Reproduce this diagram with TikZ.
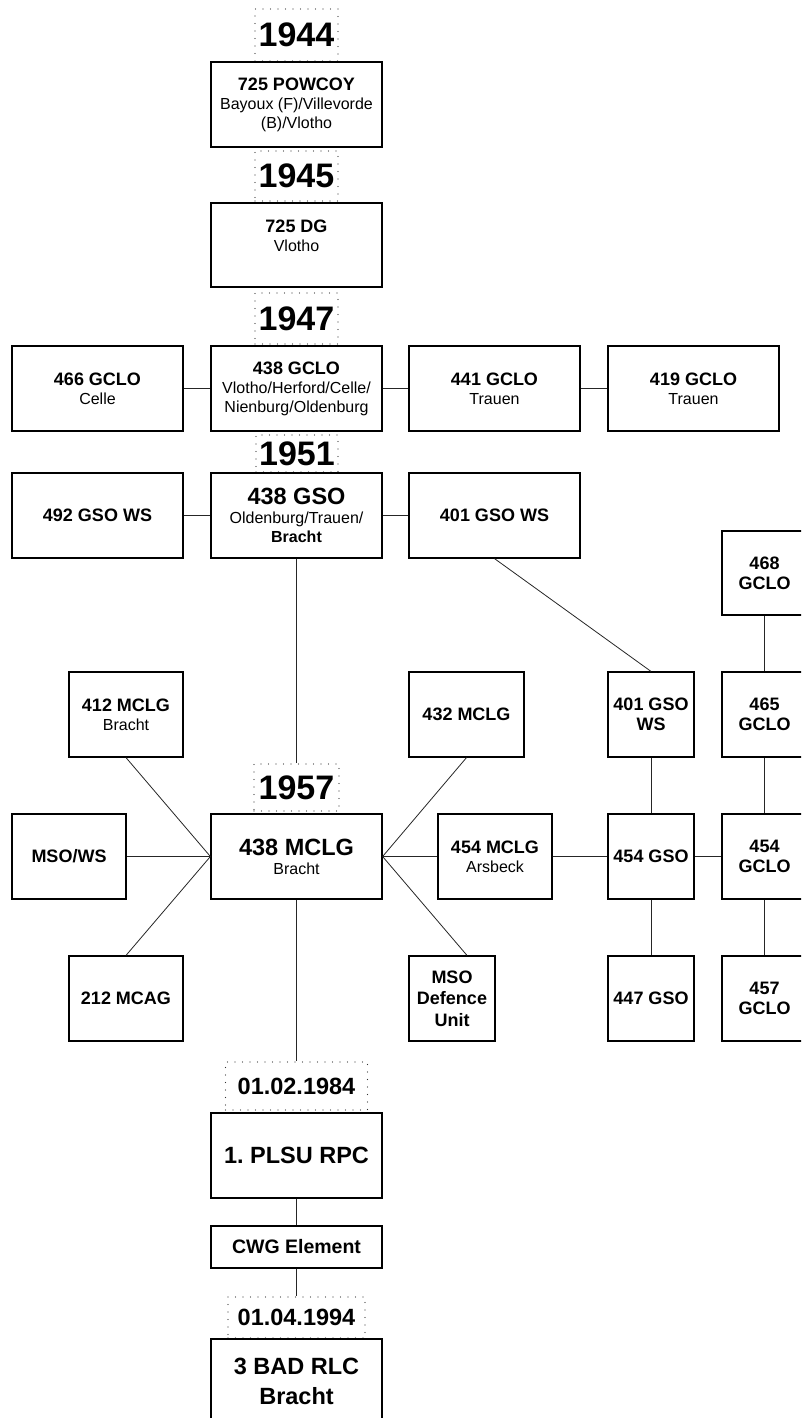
\documentclass[tikz,border=0pt]{standalone}
\usepackage{fontspec}
\setmainfont{Liberation Sans}
\frenchspacing
\newcommand\myfs[2]{\fontsize{#1}{#2}\selectfont}
\newcommand\ttl[1]{{\myfs{18}{20}\bfseries #1}}
\newcommand\bigttl[1]{{\myfs{23.5}{29}\bfseries #1}}
\begin{document}
\begin{tikzpicture}[x=1pt,y=-1pt,
  box/.style={draw=black, line width=1.2pt, align=center, inner sep=0pt, font=\myfs{16}{19}},
  sz/.style 2 args={minimum width=#1pt, minimum height=#2pt},
  wide/.style={box, sz={171}{85}},
  mid/.style={box, sz={114}{85}},
  small/.style={box, sz={86}{85}},
  yearbox/.style={draw=black!80, line width=1.4pt, dash pattern=on 0pt off 7.5pt, line cap=round, inner sep=0pt, font=\myfs{34}{36}\bfseries},
  datebox/.style={yearbox, font=\myfs{23.5}{26}\bfseries},
  conn/.style={line width=0.8pt, draw=black!85}]
\useasboundingbox (0,0) rectangle (801,1418);
\clip (0,0) rectangle (801,1418);

% year / date boxes
\node[yearbox, sz={83}{52}] (y1944) at (296.5,35) {1944};
\node[yearbox, sz={83}{50}] (y1945) at (296.5,176) {1945};
\node[yearbox, sz={83}{51}] (y1947) at (296.5,318.5) {1947};
\node[yearbox, sz={82}{37}] (y1951) at (297,453.5) {1951};
\node[yearbox, sz={85}{47}] (y1957) at (296.5,787.5) {1957};
\node[datebox, sz={142}{48}] (y1984) at (296.5,1086) {01.02.1984};
\node[datebox, sz={137}{41}] (y1994) at (296.5,1317.5) {01.04.1994};

% main column
\node[wide] (pow) at (296.5,104.5) {\ttl{725 POWCOY}\\Bayoux (F)/Villevorde\\(B)/Vlotho};
\node[wide, sz={171}{84}] (dg) at (296.5,245) {\ttl{725 DG}\\Vlotho\\ };
\node[wide] (g438) at (296.5,388.5) {\ttl{438 GCLO}\\Vlotho/Herford/Celle/\\Nienburg/Oldenburg};
\node[wide] (g466) at (97.5,388.5) {\ttl{466 GCLO}\\Celle};
\node[wide] (g441) at (494.5,388.5) {\ttl{441 GCLO}\\Trauen};
\node[wide] (g419) at (693.5,388.5) {\ttl{419 GCLO}\\Trauen};

\node[wide] (s438) at (296.5,515.5) {\bigttl{438 GSO}\\Oldenburg/Trauen/\\\textbf{Bracht}};
\node[wide] (s492) at (97.5,515.5) {\ttl{492 GSO WS}};
\node[wide] (s401) at (494.5,515.5) {\ttl{401 GSO WS}};

\node[small, sz={85}{84}, font=\myfs{18}{20}\bfseries] (g468) at (764.5,573) {468\\GCLO};
\node[mid] (m412) at (126,714.5) {\ttl{412 MCLG}\\Bracht};
\node[mid, sz={115}{85}] (m432) at (466.5,714.5) {\ttl{432 MCLG}};
\node[small, font=\myfs{18}{20}\bfseries] (s401b) at (651,714.5) {401 GSO\\WS};
\node[small, sz={85}{85}, font=\myfs{18}{20}\bfseries] (g465) at (764.5,714.5) {465\\GCLO};

\node[mid] (msows) at (69,856.5) {\ttl{MSO/WS}};
\node[wide] (m438) at (296.5,856.5) {\bigttl{438 MCLG}\\Bracht};
\node[mid] (m454) at (495,856.5) {\ttl{454 MCLG}\\Arsbeck};
\node[small] (s454) at (651,856.5) {\ttl{454 GSO}};
\node[small, sz={85}{85}, font=\myfs{18}{20}\bfseries] (g454) at (764.5,856.5) {454\\GCLO};

\node[mid] (mcag) at (126,998.5) {\ttl{212 MCAG}};
\node[small, font=\myfs{18}{21.5}\bfseries] (msod) at (452,998.5) {MSO\\Defence\\Unit};
\node[small] (s447) at (651,998.5) {\ttl{447 GSO}};
\node[small, sz={85}{85}, font=\myfs{18}{20}\bfseries] (g457) at (764.5,998.5) {457\\GCLO};

\node[wide] (plsu) at (296.5,1155.5) {\bigttl{1. PLSU RPC}};
\node[wide, sz={171}{42}] (cwg) at (296.5,1247) {{\myfs{19.5}{22}\bfseries CWG Element}};
\node[wide, font=\myfs{23.5}{30}\bfseries] (bad) at (296.5,1381.5) {3 BAD RLC\\Bracht};

% connectors
\draw[conn] (g466) -- (g438);
\draw[conn] (g438) -- (g441);
\draw[conn] (g441) -- (g419);
\draw[conn] (s492) -- (s438);
\draw[conn] (s438) -- (s401);
\draw[conn] (s401.south) -- (s401b.north);
\draw[conn] (s438.south) -- (y1957.north);
\draw[conn] (m438.west) -- (m412.south);
\draw[conn] (m438.west) -- (msows.east);
\draw[conn] (m438.west) -- (mcag.north);
\draw[conn] (m438.east) -- (m432.south);
\draw[conn] (m438.east) -- (m454.west);
\draw[conn] (m438.east) -- ([xshift=15pt]msod.north);
\draw[conn] (m454) -- (s454);
\draw[conn] (s454) -- (g454);
\draw[conn] (s401b) -- (s454);
\draw[conn] (s454) -- (s447);
\draw[conn] (g468) -- (g465);
\draw[conn] (g465) -- (g454);
\draw[conn] (g454) -- (g457);
\draw[conn] (m438.south) -- (y1984.north);
\draw[conn] (plsu) -- (cwg);
\draw[conn] (cwg.south) -- (y1994.north);
\end{tikzpicture}
\end{document}
